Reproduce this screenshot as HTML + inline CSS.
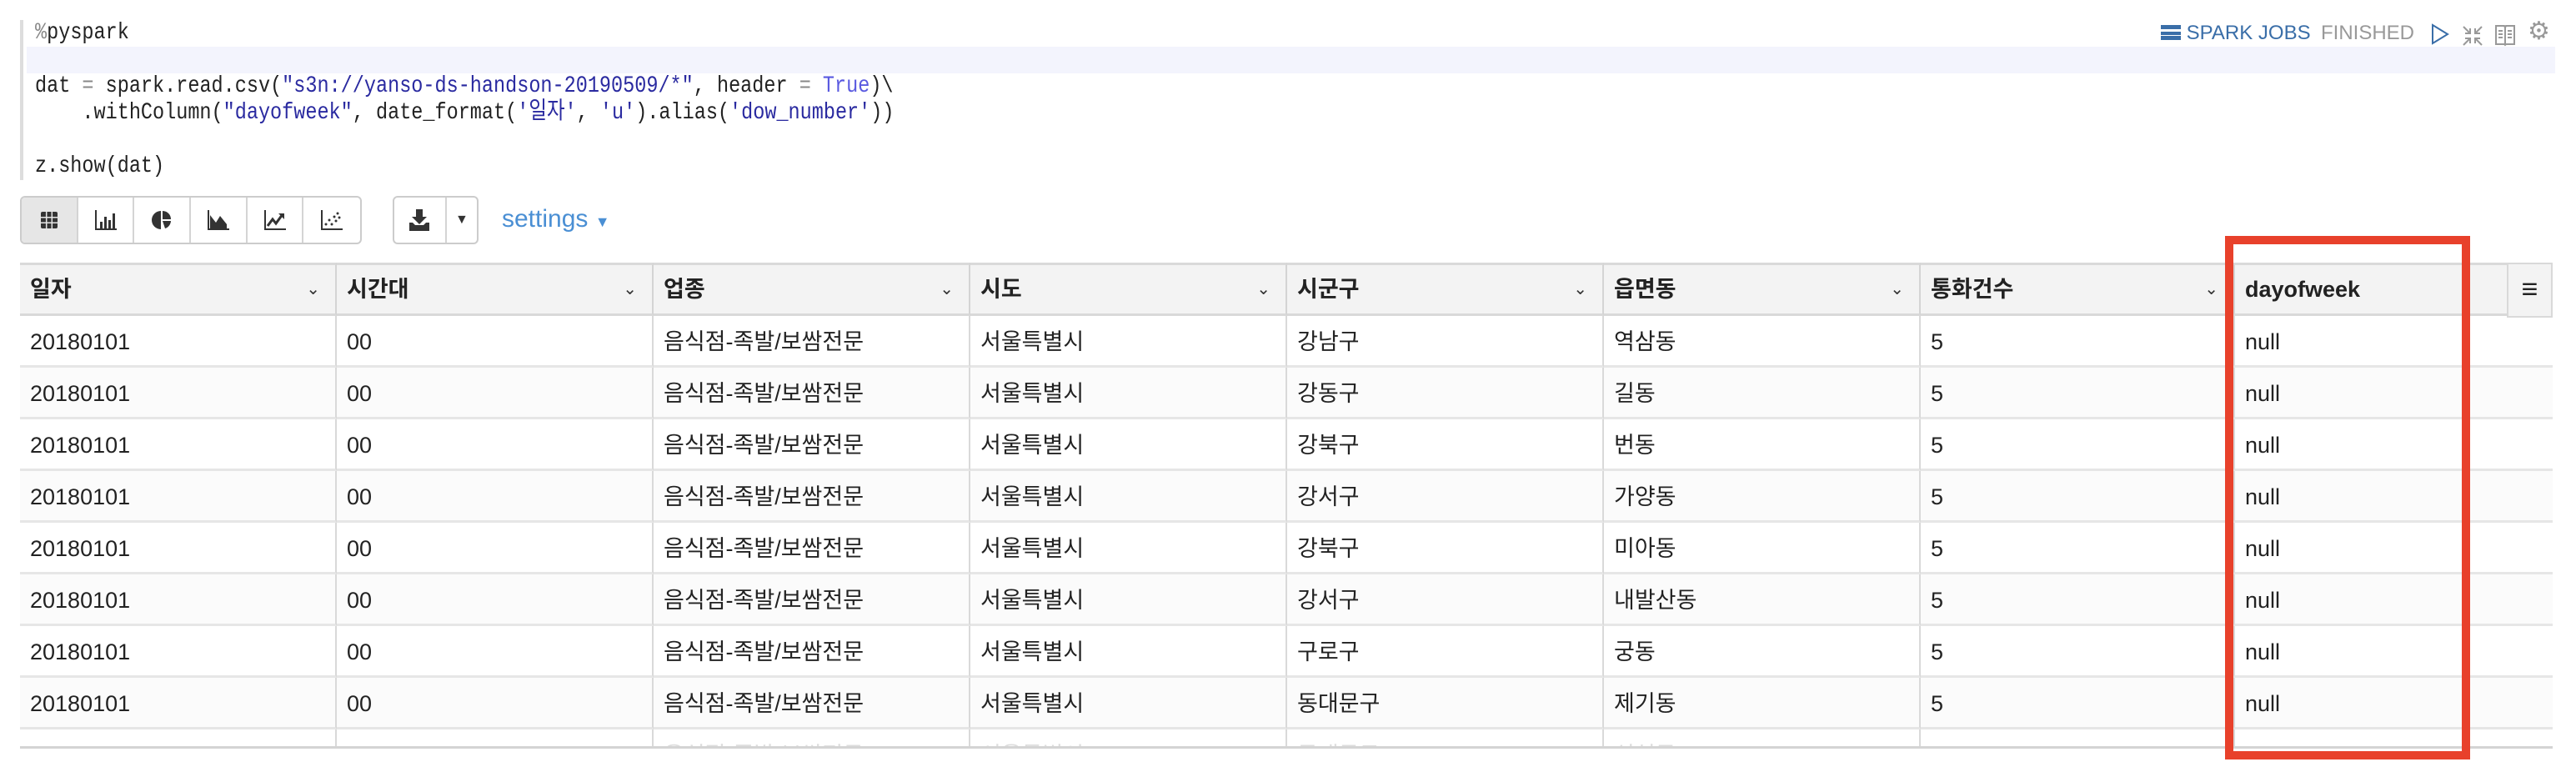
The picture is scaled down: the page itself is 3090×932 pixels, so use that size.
<!DOCTYPE html>
<html><head><meta charset="utf-8"><style>
body{margin:0;width:3090px;height:932px;background:#fff;position:relative;overflow:hidden;font-family:"Liberation Sans","Noto Sans CJK KR",sans-serif;}
.a{position:absolute;}
.code{position:absolute;left:14px;font-family:"Liberation Mono","Noto Sans CJK KR",monospace;font-size:23.5px;color:#222;white-space:pre;line-height:32px;height:32px;transform:scaleY(1.2);}
.s{color:#2a2aa0}.k{color:#5a5ae0}.o{color:#888}
.tb{position:absolute;top:235px;height:58px;border:2px solid #ccc;border-radius:6px;box-sizing:border-box;display:flex;overflow:hidden;background:#fff}
.tb div{width:68px;height:100%;border-right:2px solid #d4d4d4;box-sizing:border-box;display:flex;align-items:center;justify-content:center;font-size:22px;color:#333}
.tb div:last-child{border-right:none}
.hd{position:absolute;top:315px;height:64px;background:#f3f3f3;border-top:3px solid #d9d9d9;border-bottom:3px solid #d9d9d9;box-sizing:border-box;font-weight:bold;font-size:27px;color:#222;line-height:58px;padding-left:12px;border-right:2px solid #d4d4d4}
.hd span{position:absolute;right:18px;top:0;font-weight:normal;font-size:20px;color:#333}
.c{position:absolute;height:62px;line-height:62px;font-size:27px;color:#222;padding-left:12px;box-sizing:border-box;border-right:2px solid #d9d9d9;border-bottom:3px solid #e6e6e6;white-space:nowrap;overflow:hidden}
</style></head><body>
<div class="a" style="left:24px;top:24px;width:3037px;height:192px;border-left:4px solid #ddd;">
 <div class="a" style="left:4px;top:32px;width:3033px;height:32px;background:#f3f4fd"></div>
 <div class="code" style="top:0px"><span class="o">%</span>pyspark</div>
 <div class="code" style="top:64px">dat <span class="o">=</span> spark.read.csv(<span class="s">"s3n://yanso-ds-handson-20190509/*"</span>, header <span class="o">=</span> <span class="k">True</span>)\</div>
 <div class="code" style="top:96px">    .withColumn(<span class="s">"dayofweek"</span>, date_format(<span class="s">'일자'</span>, <span class="s">'u'</span>).alias(<span class="s">'dow_number'</span>))</div>
 <div class="code" style="top:160px">z.show(dat)</div>
</div>
<div class="a" style="left:2592px;top:24px;font-size:24px;color:#3a6ea8;line-height:32px;white-space:nowrap"><span style="display:inline-block;width:24px;height:18px;border-top:5px solid #3a6ea8;border-bottom:5px solid #3a6ea8;box-sizing:border-box;background:linear-gradient(#3a6ea8,#3a6ea8) 0 3px/100% 4px no-repeat;vertical-align:-1px"></span> SPARK JOBS</div>
<div class="a" style="left:2784px;top:24px;font-size:24px;color:#999;line-height:32px">FINISHED</div>
<svg class="a" style="left:2916px;top:28px" width="22" height="26"><path d="M2 2 L20 13 L2 24 Z" fill="none" stroke="#3a6ea8" stroke-width="2"/></svg>
<svg class="a" style="left:2953px;top:30px" width="26" height="26" stroke="#999" stroke-width="2" fill="none"><path d="M2 2l8 8M10 4v6H4M24 2l-8 8M16 4v6h6M2 24l8-8M4 16h6v6M24 24l-8-8M22 16h-6v6"/></svg>
<svg class="a" style="left:2992px;top:28px" width="26" height="28" stroke="#999" stroke-width="2" fill="none"><path d="M2 3h10l1 2 1-2h10v22H14l-1 1-1-1H2z M13 5v20 M5 9h5M5 13h5M5 17h5M16 9h5M16 13h5M16 17h5"/></svg>
<div class="a" style="left:3032px;top:20px;font-size:30px;color:#999">⚙</div>

<div class="tb" style="left:24px;width:410px">
 <div style="background:#e6e6e6"><svg width="22" height="22"><rect x="1" y="1" width="20" height="20" rx="2" fill="#333"/><path d="M7.7 1v20M14.3 1v20M1 7.7h20M1 14.3h20" stroke="#e6e6e6" stroke-width="1.5"/></svg></div>
 <div><svg width="26" height="24"><path d="M1 0v23h25" stroke="#333" stroke-width="2" fill="none"/><rect x="6" y="14" width="3" height="8" fill="#333"/><rect x="11" y="8" width="3" height="14" fill="#333"/><rect x="16" y="12" width="3" height="10" fill="#333"/><rect x="21" y="4" width="3" height="18" fill="#333"/></svg></div>
 <div><svg width="24" height="26"><path d="M11 2A11 11 0 1 0 11 24Z" fill="#333"/><path d="M13 2A10 10 0 0 1 23 12H13Z M13 14H23A10 10 0 0 1 16 23Z" fill="#333"/></svg></div>
 <div><svg width="26" height="24"><path d="M1 0v23h25" stroke="#333" stroke-width="2" fill="none"/><path d="M3 22V6l7 9 5-8 8 10v5z" fill="#333"/></svg></div>
 <div><svg width="26" height="24"><path d="M1 0v23h25" stroke="#333" stroke-width="2" fill="none"/><path d="M4 19l6-8 4 5 8-11" stroke="#333" stroke-width="3" fill="none"/><path d="M17 4h7v7z" fill="#333"/></svg></div>
 <div><svg width="26" height="24"><path d="M1 0v23h25" stroke="#333" stroke-width="2" fill="none"/><g fill="#333"><circle cx="6" cy="17" r="1.5"/><circle cx="10" cy="12" r="1.5"/><circle cx="13" cy="17" r="1.5"/><circle cx="16" cy="8" r="1.5"/><circle cx="20" cy="4" r="1.5"/><circle cx="18" cy="13" r="1.5"/><circle cx="22" cy="9" r="1.5"/></g></svg></div>
</div>
<div class="tb" style="left:471px;width:103px">
 <div style="width:64px"><svg width="24" height="26"><path d="M8 0h8v9h5l-9 9-9-9h5z" fill="#333"/><path d="M0 16h4l3 3h10l3-3h4v10H0z" fill="#333"/></svg></div>
 <div style="width:37px;font-size:16px">▼</div>
</div>
<div class="a" style="left:602px;top:246px;font-size:30px;color:#4a8fd4">settings <span style="font-size:18px">▼</span></div>

<div class="a" style="left:24px;top:315px;width:3038px;height:583px;border-left:2px solid #d4d4d4;border-right:3px solid #d4d4d4;border-bottom:3px solid #d4d4d4;box-sizing:border-box"></div>
<div id="tbl"></div>
<div class="a" style="left:3007px;top:315px;width:55px;height:66px;background:#f3f3f3;border:2px solid #d9d9d9;box-sizing:border-box;font-size:34px;text-align:center;line-height:60px;color:#222;font-weight:bold">≡</div>
<div class="a" style="left:2669px;top:283px;width:294px;height:628px;border:10px solid #e8412b;box-sizing:border-box"></div>
<script>
const headers=["일자","시간대","업종","시도","시군구","읍면동","통화건수","dayofweek"];
const sigungu=["강남구","강동구","강북구","강서구","강북구","강서구","구로구","동대문구","동대문구"];
const dong=["역삼동","길동","번동","가양동","미아동","내발산동","궁동","제기동","신설동"];
const lefts=[24,404,784,1164,1544,1924,2304,2681,3062];
const root=document.getElementById('tbl');
headers.forEach((h,i)=>{const d=document.createElement('div');d.className='hd';


d.style.left=lefts[i]+'px';d.style.width=(lefts[i+1]-lefts[i])+'px';d.innerHTML=h+'<span>⌄</span>';root.appendChild(d);});
for(let r=0;r<9;r++){const vals=["20180101","00","음식점-족발/보쌈전문","서울특별시",sigungu[r],dong[r],"5","null"];
 vals.forEach((v,i)=>{const d=document.createElement('div');d.className='c';
 
 
 const top=379+r*62;d.style.top=top+'px';d.style.left=lefts[i]+'px';d.style.width=(lefts[i+1]-lefts[i])+'px';
 if(r==8){d.style.height=(895-top)+'px';d.style.borderBottom='none';d.style.color='#ddd';}
 d.style.background=r%2?'#fbfbfb':'#fff';if(i==7)d.style.borderRight='none';d.textContent=v;root.appendChild(d);});}
</script>
</body></html>
